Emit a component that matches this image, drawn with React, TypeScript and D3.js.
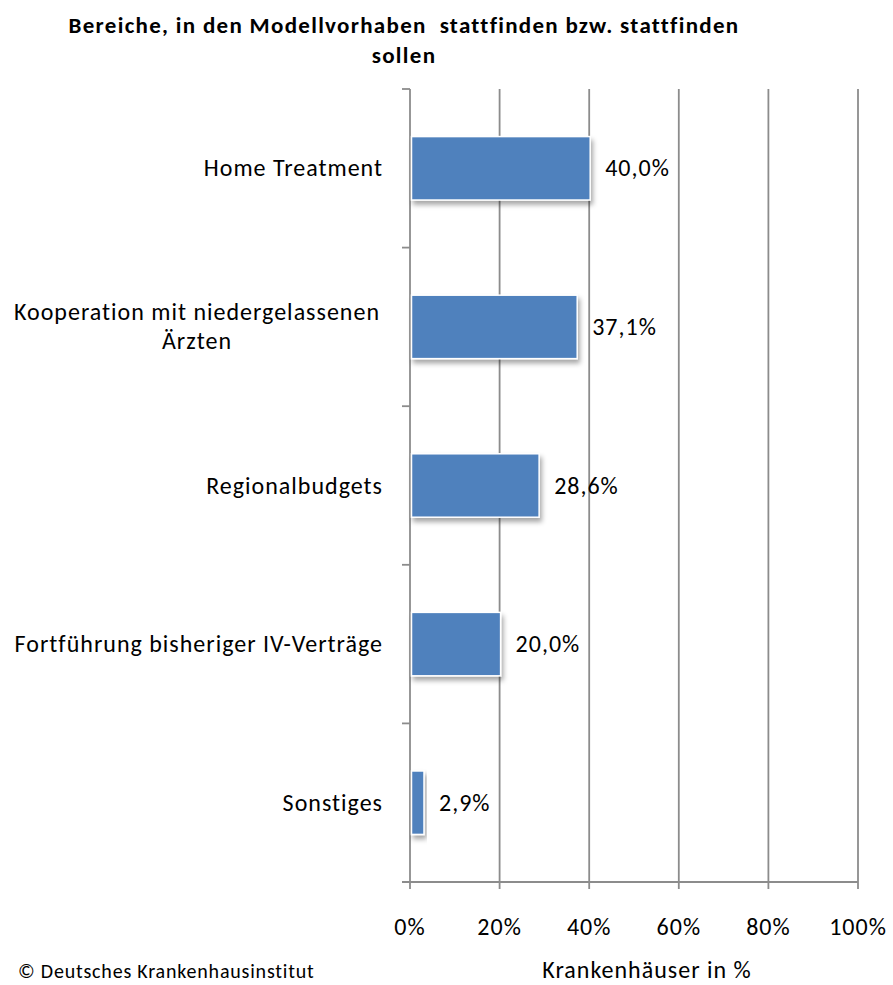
import React from "react";
import * as d3 from "d3";

const categories: string[][] = [
  ["Home Treatment"],
  ["Kooperation mit niedergelassenen", "Ärzten"],
  ["Regionalbudgets"],
  ["Fortführung bisheriger IV-Verträge"],
  ["Sonstiges"],
];
const values: number[] = [40.0, 37.1, 28.6, 20.0, 2.9];
const ticks: number[] = [0, 20, 40, 60, 80, 100];
const titleLines: string[] = ["Bereiche, in den Modellvorhaben  stattfinden bzw. stattfinden", "sollen"];
const xTitle = "Krankenhäuser in %";
const credit = "© Deutsches Krankenhausinstitut";

const W = 893, H = 985;
const L = 410, R = 858, T = 89, B = 882;
const FONT = "Carlito, Calibri, Lato, 'Open Sans', sans-serif";
const FS = 24;
const LS = 1;

export default function App() {
  const x = d3.scaleLinear().domain([0, 100]).range([L, R]);
  const y = d3.scaleBand<number>().domain(d3.range(values.length)).range([T, B]).paddingInner(0.6).paddingOuter(0.3);
  const step = y.step();
  const grid = "#8c8c8c";
  return (
    <svg width={W} height={H} style={{ position: "absolute", left: 0, top: 0 }} fontFamily={FONT}>
      <defs>
        <filter id="sh" x="-20%" y="-20%" width="140%" height="160%">
          <feDropShadow dx="2" dy="4" stdDeviation="2.5" floodColor="#000" floodOpacity="0.35" />
        </filter>
      </defs>
      <rect width={W} height={H} fill="#fff" />
      {titleLines.map((t, i) => (
        <text key={i} x={404} y={33 + i * 30} textAnchor="middle" fontSize={23} letterSpacing={1.3} fontWeight="bold" fill="#000" style={{ whiteSpace: "pre" }}>{t}</text>
      ))}
      {ticks.map((t) => (
        <line key={t} x1={x(t)} x2={x(t)} y1={T} y2={B + 7} stroke={grid} strokeWidth={1.8} />
      ))}
      <line x1={L - 8} x2={R} y1={B} y2={B} stroke={grid} strokeWidth={1.8} />
      {d3.range(values.length).map((i) => (
        <line key={i} x1={L - 8} x2={L} y1={T + i * step} y2={T + i * step} stroke={grid} strokeWidth={1.8} />
      ))}
      {values.map((v, i) => (
        <g key={i}>
          <rect x={x(0) + 1.5} y={y(i)!} width={x(v) - x(0) - 0.5} height={y.bandwidth()} fill="#4f81bd" stroke="#fff" strokeWidth={1.5} filter="url(#sh)" />
          <text x={x(v) + 16} y={y(i)! + y.bandwidth() / 2 + 8} fontSize={FS} letterSpacing={LS} fill="#000">{v.toFixed(1).replace(".", ",") + "%"}</text>
        </g>
      ))}
      {categories.map((lines, i) => {
        const cy = y(i)! + y.bandwidth() / 2;
        const n = lines.length;
        return (
          <g key={i}>
            {lines.map((ln, j) => {
              const ty = cy + 8 + (j - (n - 1) / 2) * 29;
              return n === 1 ? (
                <text key={j} x={383} y={ty} textAnchor="end" fontSize={FS} letterSpacing={LS} fill="#000">{ln}</text>
              ) : (
                <text key={j} x={197} y={ty} textAnchor="middle" fontSize={FS} letterSpacing={LS} fill="#000">{ln}</text>
              );
            })}
          </g>
        );
      })}
      {ticks.map((t) => (
        <text key={t} x={x(t)} y={935} textAnchor="middle" fontSize={FS} letterSpacing={LS} fill="#000">{t + "%"}</text>
      ))}
      <text x={647} y={978} textAnchor="middle" fontSize={FS} letterSpacing={LS} fill="#000">{xTitle}</text>
      <text x={18} y={978} fontSize={20} letterSpacing={0.8} fill="#000">{credit}</text>
    </svg>
  );
}
